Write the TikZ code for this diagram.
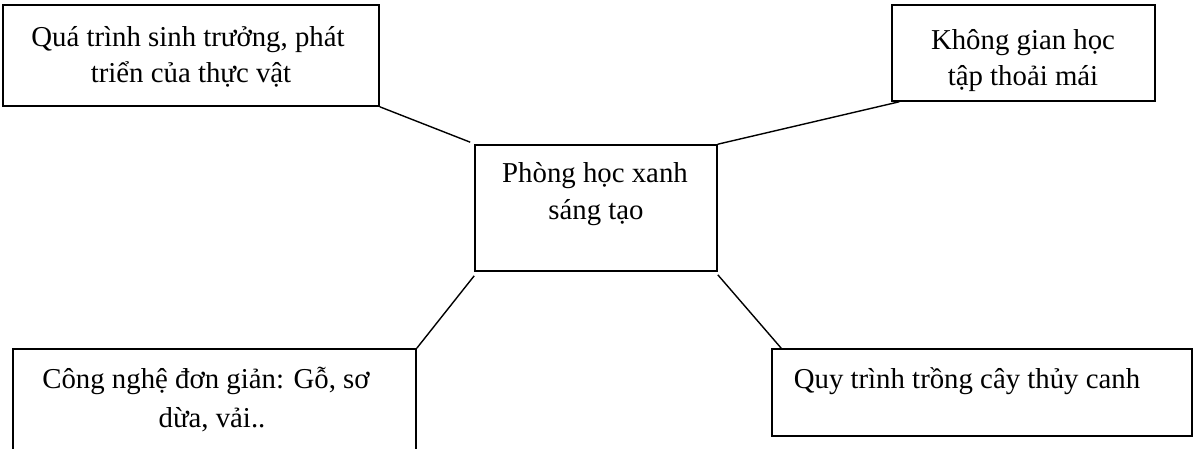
\documentclass[tikz,border=0pt]{standalone}
\usepackage{fontspec}
\setmainfont{Liberation Serif}
\usetikzlibrary{calc}
\begin{document}
\begin{tikzpicture}[x=1pt,y=-1pt,
  boxnode/.style={draw=black,line width=1.6pt,rectangle,inner sep=0pt},
  txt/.style={anchor=base,inner sep=0pt,font=\fontsize{28.8pt}{36pt}\selectfont},
  conn/.style={draw=black,line width=1.4pt}]
\useasboundingbox (0,0) rectangle (1197,449);
\fill[white] (0,0) rectangle (1197,449);
\clip (0,0) rectangle (1197,449);
% boxes
\node[boxnode,minimum width=376pt,minimum height=101pt] (tl) at (191,55.5) {};
\node[boxnode,minimum width=263pt,minimum height=96pt] (tr) at (1023.5,53) {};
\node[boxnode,minimum width=242pt,minimum height=126pt] (c) at (596,208) {};
\node[boxnode,minimum width=403pt,minimum height=111pt] (bl) at (214.5,404.5) {};
\node[boxnode,minimum width=420pt,minimum height=87pt] (br) at (982,392.5) {};
% texts
\node[txt] (tl1) at (188,47) {Quá trình sinh trưởng, phát};
\node[txt] (tl2) at (191,83) {triển của thực vật};
\node[txt] (tr1) at (1023,50) {Không gian học};
\node[txt] (tr2) at (1023,86) {tập thoải mái};
\node[txt] (c1) at (595,183) {Phòng học xanh};
\node[txt] (c2) at (596,220) {sáng tạo};
\node[txt] (bl1) at (206,388) {Công nghệ đơn giản: Gỗ, sơ};
\node[txt] (bl2) at (212,427) {dừa, vải..};
\node[txt] (br1) at (967,388) {Quy trình trồng cây thủy canh};
% connectors
\draw[conn] (tl.south east) -- ($(c.north west)+(-4,-2)$);
\draw[conn] ($(tr.south west)+(8,0)$) -- (c.north east);
\draw[conn] (bl.north east) -- ($(c.south west)+(0,4)$);
\draw[conn] ($(c.south east)+(0,3)$) -- ($(br.north west)+(10,0)$);
\end{tikzpicture}
\end{document}
